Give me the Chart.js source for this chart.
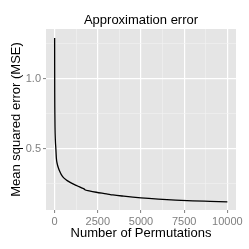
<!DOCTYPE html>
<html>
<head>
<meta charset="utf-8">
<script src="https://cdn.jsdelivr.net/npm/chart.js@4/dist/chart.umd.min.js"></script>
<style>
  html, body { margin: 0; padding: 0; background: #fff; }
  #wrap { width: 249px; height: 249px; }
</style>
</head>
<body>
<div id="wrap"><canvas id="chart" width="249" height="249"></canvas></div>
<script>
// values
const permutations = [0, 2, 5, 10, 20, 40, 70, 100, 150, 214, 300, 387, 500, 676, 800, 1063, 1250, 1445, 1600, 1700, 1750, 2000, 2410, 3000, 3375, 4000, 5000, 6000, 7000, 8000, 9000, 10000];
const mse = [1.29, 1.1, 0.9, 0.78, 0.66, 0.565, 0.5, 0.43, 0.39, 0.362, 0.335, 0.313, 0.293, 0.275, 0.265, 0.247, 0.236, 0.225, 0.216, 0.211, 0.205, 0.197, 0.187, 0.176, 0.168, 0.159, 0.147, 0.138, 0.131, 0.126, 0.122, 0.118];
// grid breaks: majors get a label, minors are just lighter lines
const xMajor = [0, 2500, 5000, 7500, 10000];
const xMinor = [1250, 3750, 6250, 8750];
const yMajor = [0.5, 1.0];
const yMinor = [0.25, 0.75, 1.25];

const FONT = "'Liberation Sans', Arial, Helvetica, sans-serif";
const grey50 = '#7F7F7F';

const panelBg = {
  id: 'panelBg',
  beforeDraw(chart) {
    const { ctx, chartArea: a } = chart;
    ctx.save();
    ctx.fillStyle = '#E5E5E5';
    ctx.fillRect(a.left, a.top, a.right - a.left, a.bottom - a.top);
    ctx.restore();
  },
  afterLayout(chart) {
    // center the title over the panel, like ggplot
    const t = chart.titleBlock;
    if (t) { t.left = chart.chartArea.left; t.right = chart.chartArea.right; }
  }
};

const isMajorX = v => xMajor.includes(v);
const isMajorY = v => yMajor.some(m => Math.abs(m - v) < 1e-9);
const breaks = (maj, min) => maj.concat(min).sort((a, b) => a - b).map(v => ({ value: v }));

new Chart(document.getElementById('chart'), {
  type: 'line',
  data: {
    datasets: [{
      data: permutations.map((p, i) => ({ x: p, y: mse[i] })),
      borderColor: '#000',
      borderWidth: 1.3,
      pointRadius: 0,
      cubicInterpolationMode: 'monotone',
      fill: false
    }]
  },
  options: {
    responsive: false,
    animation: false,
    devicePixelRatio: 1,
    layout: { padding: { left: 0, right: 13, top: 0, bottom: 0 } },
    plugins: {
      legend: { display: false },
      tooltip: { enabled: false },
      title: {
        display: true,
        text: 'Approximation error',
        color: '#000',
        font: { family: FONT, size: 13, weight: 'normal', lineHeight: 1.2 },
        padding: { top: 13, bottom: 0.4 }
      }
    },
    scales: {
      x: {
        type: 'linear',
        min: -500,
        max: 10500,
        afterBuildTicks(s) { s.ticks = breaks(xMajor, xMinor); },
        afterFit(s) { s.height = 39; },
        border: { display: false },
        grid: {
          color: c => isMajorX(c.tick.value) ? '#FFFFFF' : '#F2F2F2',
          lineWidth: c => isMajorX(c.tick.value) ? 1.2 : 0.6,
          tickColor: c => isMajorX(c.tick.value) ? grey50 : 'rgba(0,0,0,0)',
          tickLength: 3,
          tickWidth: 1
        },
        ticks: {
          autoSkip: false,
          maxRotation: 0,
          padding: 2,
          color: grey50,
          font: { family: FONT, size: 11 },
          callback: v => isMajorX(v) ? String(v) : ''
        },
        title: {
          display: true,
          text: 'Number of Permutations',
          color: '#000',
          font: { family: FONT, size: 13, lineHeight: 1.2 },
          padding: { top: 0, bottom: 8 }
        }
      },
      y: {
        type: 'linear',
        min: 0.06,
        max: 1.355,
        afterBuildTicks(s) { s.ticks = breaks(yMajor, yMinor); },
        afterFit(s) { s.width = 46; },
        border: { display: false },
        grid: {
          color: c => isMajorY(c.tick.value) ? '#FFFFFF' : '#F2F2F2',
          lineWidth: c => isMajorY(c.tick.value) ? 1.2 : 0.6,
          tickColor: c => isMajorY(c.tick.value) ? grey50 : 'rgba(0,0,0,0)',
          tickLength: 3,
          tickWidth: 1
        },
        ticks: {
          autoSkip: false,
          padding: 2,
          color: grey50,
          font: { family: FONT, size: 11 },
          callback: v => isMajorY(v) ? v.toFixed(1) : ''
        },
        title: {
          display: true,
          text: 'Mean squared error (MSE)',
          color: '#000',
          font: { family: FONT, size: 13, lineHeight: 1.2 },
          padding: { top: 9, bottom: 0 }
        }
      }
    }
  },
  plugins: [panelBg]
});
</script>
</body>
</html>
